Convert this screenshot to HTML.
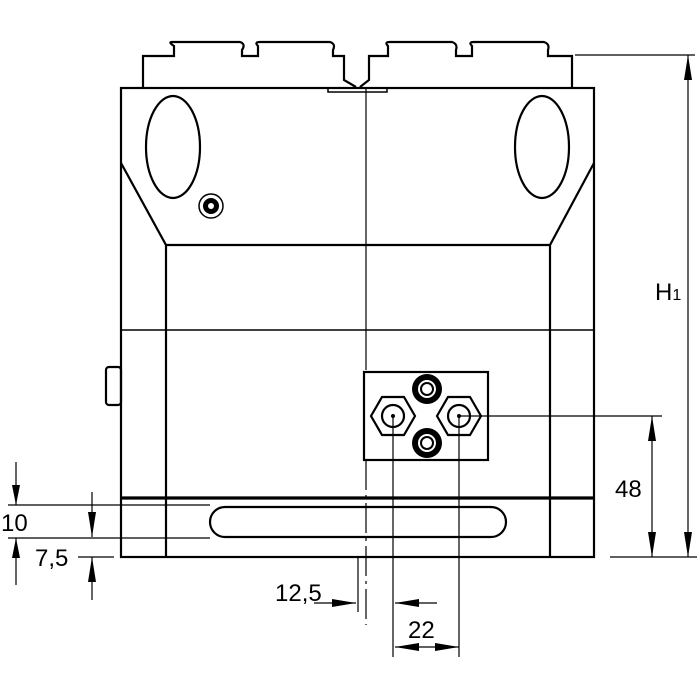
<!DOCTYPE html>
<html><head><style>html,body{margin:0;padding:0;background:#fff}svg{display:block}</style></head>
<body>
<svg width="700" height="700" viewBox="0 0 700 700" xmlns="http://www.w3.org/2000/svg" font-family="Liberation Sans, sans-serif">
<g fill="none" stroke="#000" stroke-width="2.2">
<path d="M143,88 V56 H174 V46 Q168,42 172,42 H240 Q246,44 242,50 V56 H258 V46 Q254,42 260,42 H330 Q336,44 333,50 V56 H344 V80 L356,87 M360,87 L369,80 V56 H388 V46 Q384,42 390,42 H452 Q458,44 456,50 V56 H472 V46 Q468,42 474,42 H544 Q550,44 548,50 V56 H572 V88"/>
<rect x="121" y="88" width="473" height="469"/>
<path d="M121,163 L166,245 H550 L594,163"/>
<line x1="166" y1="245" x2="166" y2="557"/>
<line x1="550" y1="245" x2="550" y2="557"/>
<line x1="121" y1="330" x2="594" y2="330" stroke-width="1.5"/>
<line x1="121" y1="498" x2="594" y2="498" stroke-width="3.2"/>
<rect x="210" y="507" width="296" height="30" rx="15"/>
<rect x="328" y="88" width="59" height="4" stroke-width="1.5"/>
<ellipse cx="173" cy="147" rx="27" ry="51"/>
<ellipse cx="542" cy="147" rx="27" ry="51"/>
<rect x="106" y="367" width="15" height="38" rx="3"/>
<rect x="364" y="372" width="124" height="88"/>
<polygon points="371,416 382,397 404,397 415,416 404,435 382,435"/>
<polygon points="437,416 448,397 470,397 481,416 470,435 448,435"/>
<circle cx="393" cy="416" r="11"/>
<circle cx="459" cy="416" r="11"/>
</g>
<circle cx="211" cy="206" r="12" fill="none" stroke="#000" stroke-width="1.5"/>
<circle cx="211" cy="206" r="8" fill="#000"/><circle cx="211" cy="206" r="3" fill="#fff"/>
<circle cx="427" cy="389" r="15" fill="#000"/><circle cx="427" cy="389" r="9" fill="#fff"/><circle cx="427" cy="389" r="6" fill="none" stroke="#000" stroke-width="2"/>
<circle cx="427" cy="443" r="15" fill="#000"/><circle cx="427" cy="443" r="9" fill="#fff"/><circle cx="427" cy="443" r="6" fill="none" stroke="#000" stroke-width="2"/>
<circle cx="393" cy="416" r="2" fill="#000"/><circle cx="459" cy="416" r="2" fill="#000"/>
<g stroke="#000" stroke-width="1.2" fill="none">
<line x1="366" y1="88" x2="366" y2="370"/>
<line x1="366" y1="460" x2="366" y2="625" stroke-dasharray="30,5,3,5"/>
<line x1="393" y1="416" x2="393" y2="657"/>
<line x1="459" y1="416" x2="459" y2="657"/>
<line x1="459" y1="416" x2="662" y2="416"/>
<line x1="575" y1="55" x2="695" y2="55"/>
<line x1="610" y1="557" x2="697" y2="557"/>
<line x1="688" y1="55" x2="688" y2="557"/>
<line x1="652" y1="416" x2="652" y2="557"/>
<line x1="8" y1="505" x2="210" y2="505"/>
<line x1="8" y1="538" x2="210" y2="538"/>
<line x1="16" y1="462" x2="16" y2="505"/>
<line x1="16" y1="538" x2="16" y2="585"/>
<line x1="92" y1="492" x2="92" y2="537"/>
<line x1="92" y1="557" x2="92" y2="600"/>
<line x1="78" y1="557" x2="114" y2="557"/>
<line x1="358" y1="557" x2="358" y2="612"/>
<line x1="314" y1="603" x2="356" y2="603"/>
<line x1="395" y1="603" x2="437" y2="603"/>
<line x1="395" y1="647" x2="459" y2="647"/>
</g>
<g fill="#000">
<polygon points="688,55 684,80 692,80"/><polygon points="688,557 684,532 692,532"/>
<polygon points="652,416 648,441 656,441"/><polygon points="652,557 648,532 656,532"/>
<polygon points="16,505 12,485 20,485"/><polygon points="16,538 12,558 20,558"/>
<polygon points="92,537 88,512 96,512"/><polygon points="92,557 88,582 96,582"/>
<polygon points="356,603 332,599 332,607"/>
<polygon points="395,603 419,599 419,607"/>
<polygon points="395,647 419,643 419,651"/><polygon points="459,647 435,643 435,651"/>
</g>
<g font-size="24" fill="#000">
<text x="655" y="300">H<tspan font-size="16">1</tspan></text>
<text x="615" y="497">48</text>
<text x="1" y="531">10</text>
<text x="35" y="566">7,5</text>
<text x="275" y="601">12,5</text>
<text x="408" y="638">22</text>
</g>
</svg>
</body></html>
